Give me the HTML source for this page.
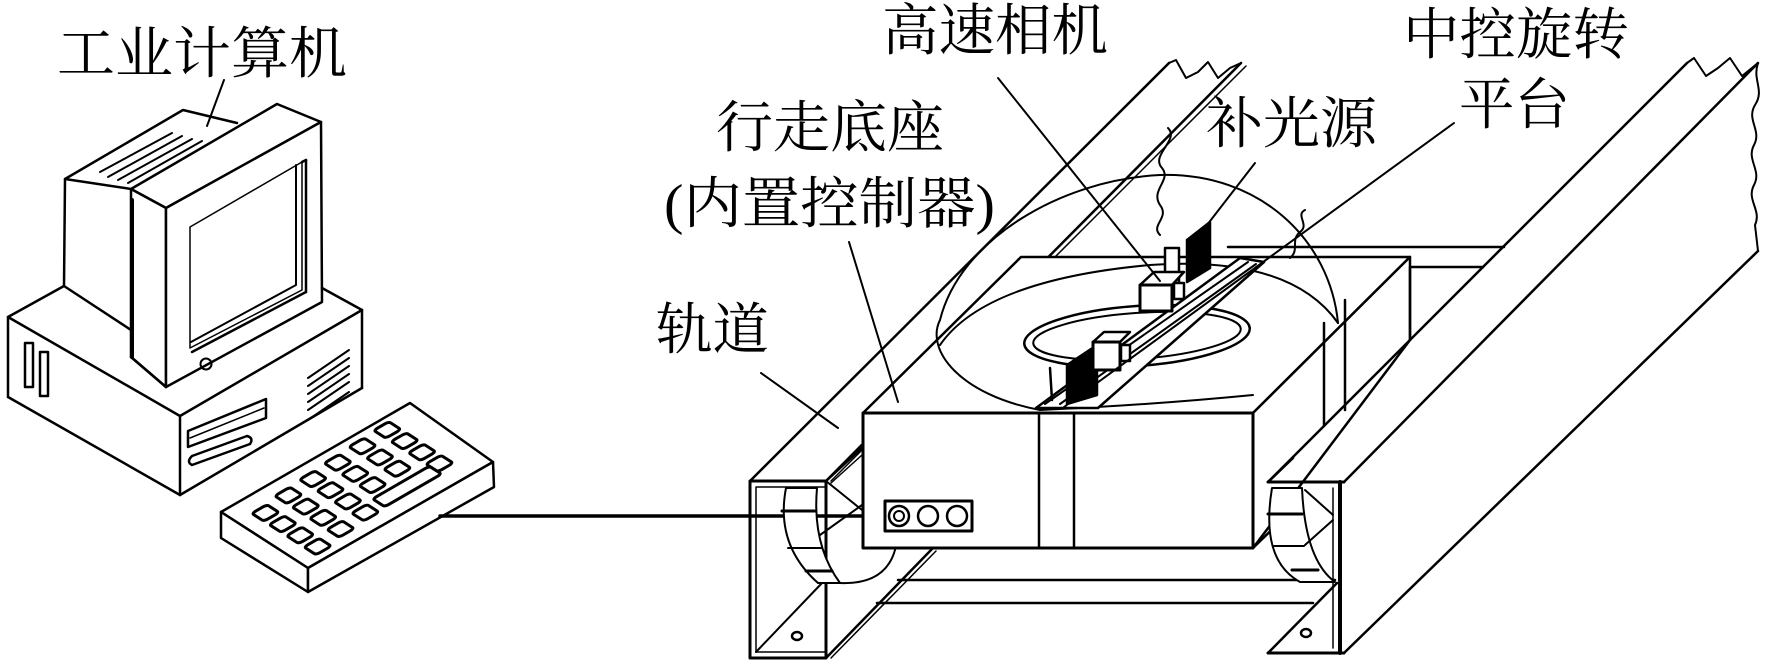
<!DOCTYPE html>
<html><head><meta charset="utf-8"><style>
html,body{margin:0;padding:0;background:#fff;}
svg{display:block;}
text{font-family:"Liberation Serif","Noto Serif CJK SC","Noto Sans CJK SC",serif;fill:#000;}
</style></head><body>
<svg width="1769" height="665" viewBox="0 0 1769 665" xmlns="http://www.w3.org/2000/svg">
<g fill="none" stroke="#000" stroke-width="2.5" stroke-linejoin="round" stroke-linecap="round">
<!-- ===== Computer ===== -->
<!-- monitor back box -->
<polyline points="131,189 65,179 183,110 237,123"/>
<line x1="65" y1="179" x2="64" y2="286"/>
<line x1="64" y1="286" x2="131" y2="330"/>
<!-- vents on back top -->
<g stroke-width="2">
<line x1="100" y1="172" x2="172" y2="133"/>
<line x1="108" y1="177" x2="182" y2="136"/>
<line x1="118" y1="180" x2="192" y2="139"/>
<line x1="128" y1="183" x2="202" y2="141"/>
</g>
<!-- monitor front box -->
<polygon points="131,189 277,104 321,122 166,208" fill="#fff"/>
<polygon points="131,189 166,208 166,387 131,357" fill="#fff"/>
<polygon points="166,208 321,122 322,302 166,387" fill="#fff"/>
<line x1="132" y1="200" x2="132" y2="357" stroke-width="4"/>
<!-- screen -->
<polygon points="190,227 302,162 302,290 190,348" stroke-width="1.5"/>
<polyline points="296,165 296,285 191,342" stroke-width="2"/>
<line x1="302" y1="162" x2="306" y2="160" />
<line x1="306" y1="160" x2="306" y2="292"/>
<line x1="306" y1="292" x2="192" y2="352"/>
<circle cx="206" cy="364" r="5.5" stroke-width="2"/>
<!-- base box -->
<polyline points="64,286 8,317 180,416 362,310 322,288"/>
<line x1="8" y1="317" x2="8" y2="397"/>
<line x1="8" y1="397" x2="180" y2="495"/>
<line x1="180" y1="416" x2="180" y2="495"/>
<line x1="362" y1="310" x2="362" y2="388"/>
<line x1="362" y1="388" x2="180" y2="495"/>
<line x1="166" y1="387" x2="131" y2="357"/>
<!-- left slots -->
<rect x="25" y="343" width="8" height="44"/>
<rect x="40" y="352" width="8" height="44"/>
<!-- right face slots -->
<polygon points="188,431 266,399 266,418 188,447"/>
<line x1="190" y1="438" x2="264" y2="408" stroke-width="1.5"/>
<path d="M192,456 L247,436 Q254,438 250,444 L192,465 Q186,462 192,456 Z"/>
<!-- vents right -->
<g stroke-width="2">
<line x1="308" y1="378" x2="349" y2="350"/>
<line x1="308" y1="386" x2="349" y2="358"/>
<line x1="308" y1="394" x2="349" y2="366"/>
<line x1="308" y1="402" x2="349" y2="374"/>
<line x1="308" y1="410" x2="349" y2="382"/>
<line x1="308" y1="420" x2="349" y2="392"/>
</g>
<!-- label leader -->
<line x1="224" y1="80" x2="207" y2="126" stroke-width="2"/>

<!-- ===== Keyboard ===== -->
<polygon points="221,512 410,403 493,462 308,568" fill="#fff"/>
<polygon points="221,512 308,568 308,592 221,538" fill="#fff"/>
<polygon points="308,568 493,462 494,487 308,592" fill="#fff"/>
<g transform="matrix(189,-109,87,56,221,512)" stroke-width="3">
<g vector-effect="non-scaling-stroke">
<rect x="0.08" y="0.18" width="0.08" height="0.14" rx="0.02" vector-effect="non-scaling-stroke"/>
<rect x="0.08" y="0.38" width="0.08" height="0.14" rx="0.02" vector-effect="non-scaling-stroke"/>
<rect x="0.08" y="0.58" width="0.08" height="0.14" rx="0.02" vector-effect="non-scaling-stroke"/>
<rect x="0.08" y="0.78" width="0.08" height="0.14" rx="0.02" vector-effect="non-scaling-stroke"/>
<rect x="0.22" y="0.14" width="0.08" height="0.14" rx="0.02" vector-effect="non-scaling-stroke"/>
<rect x="0.22" y="0.34" width="0.08" height="0.14" rx="0.02" vector-effect="non-scaling-stroke"/>
<rect x="0.22" y="0.54" width="0.08" height="0.14" rx="0.02" vector-effect="non-scaling-stroke"/>
<rect x="0.22" y="0.74" width="0.08" height="0.14" rx="0.02" vector-effect="non-scaling-stroke"/>
<rect x="0.36" y="0.12" width="0.08" height="0.14" rx="0.02" vector-effect="non-scaling-stroke"/>
<rect x="0.36" y="0.32" width="0.08" height="0.14" rx="0.02" vector-effect="non-scaling-stroke"/>
<rect x="0.36" y="0.52" width="0.08" height="0.14" rx="0.02" vector-effect="non-scaling-stroke"/>
<rect x="0.36" y="0.72" width="0.08" height="0.14" rx="0.02" vector-effect="non-scaling-stroke"/>
<rect x="0.50" y="0.10" width="0.08" height="0.14" rx="0.02" vector-effect="non-scaling-stroke"/>
<rect x="0.50" y="0.30" width="0.08" height="0.14" rx="0.02" vector-effect="non-scaling-stroke"/>
<rect x="0.50" y="0.50" width="0.08" height="0.14" rx="0.02" vector-effect="non-scaling-stroke"/>
<rect x="0.48" y="0.70" width="0.30" height="0.14" rx="0.02" vector-effect="non-scaling-stroke"/>
<rect x="0.64" y="0.08" width="0.08" height="0.14" rx="0.02" vector-effect="non-scaling-stroke"/>
<rect x="0.64" y="0.28" width="0.08" height="0.14" rx="0.02" vector-effect="non-scaling-stroke"/>
<rect x="0.64" y="0.48" width="0.08" height="0.14" rx="0.02" vector-effect="non-scaling-stroke"/>
<rect x="0.78" y="0.06" width="0.08" height="0.14" rx="0.02" vector-effect="non-scaling-stroke"/>
<rect x="0.78" y="0.26" width="0.08" height="0.14" rx="0.02" vector-effect="non-scaling-stroke"/>
<rect x="0.78" y="0.46" width="0.08" height="0.14" rx="0.02" vector-effect="non-scaling-stroke"/>
<rect x="0.78" y="0.66" width="0.08" height="0.14" rx="0.02" vector-effect="non-scaling-stroke"/>
</g></g>
<!-- cable -->
<line x1="440" y1="516" x2="886" y2="516" stroke-width="3.5"/>

<!-- ===== Rails (background parts) ===== -->
<!-- crossbars back -->
<line x1="1228" y1="247" x2="1504" y2="247"/>
<line x1="1410" y1="267" x2="1483" y2="267"/>
<!-- left rail -->
<line x1="750" y1="481" x2="1169" y2="63"/>
<line x1="826" y1="481" x2="1241" y2="63"/>
<line x1="831" y1="481" x2="1246" y2="66" stroke-width="1.5"/>
<path d="M1169,63 L1176,60 L1186,78 L1198,72 L1208,62 L1218,78 L1230,68 L1241,63" stroke-width="2"/>
<path d="M1168,128 C1180,140 1150,155 1162,168 C1172,180 1150,190 1160,205 C1170,218 1150,225 1160,235" stroke-width="2"/>
<!-- crossbars front -->
<line x1="898" y1="580" x2="1335" y2="580"/>
<line x1="877" y1="603" x2="1313" y2="603"/>
<!-- left rail bottom flange -->
<line x1="826" y1="658" x2="932" y2="549"/>
<line x1="831" y1="658" x2="936" y2="551" stroke-width="1.5"/>
<!-- ===== Main box ===== -->
<polygon points="863,413 1021,257 1410,257 1253,413" fill="#fff"/>
<polygon points="1253,413 1410,257 1410,340 1253,548" fill="#fff"/>
<rect x="863" y="413" width="390" height="135" fill="#fff" stroke-width="3"/>
<line x1="1039" y1="413" x2="1039" y2="548"/>
<line x1="1074" y1="413" x2="1074" y2="548"/>
<line x1="1253" y1="548" x2="1290" y2="512"/>
<line x1="1324" y1="323" x2="1324" y2="425"/>
<line x1="1345" y1="300" x2="1345" y2="410"/>
<line x1="1410" y1="267" x2="1410" y2="340"/>
<!-- dome & disc -->
<path d="M1040,410 C960,395 925,350 940,320 C960,240 1060,180 1160,175 C1260,172 1330,240 1338,323" stroke-width="2"/>
<path d="M940,345 Q985,280 1150,265 Q1290,255 1338,323" stroke-width="2"/>
<path d="M1040,410 Q1150,405 1253,395" stroke-width="2"/>
<path d="M1290,258 C1300,250 1290,240 1300,232 C1310,225 1295,215 1305,210" stroke-width="2"/>
<!-- ring -->
<ellipse cx="1137" cy="336" rx="113" ry="30" transform="rotate(-4 1137 336)"/>
<ellipse cx="1137" cy="336" rx="104" ry="23" transform="rotate(-4 1137 336)" stroke-width="2"/>
<!-- camera bar -->
<polygon points="1036,408 1098,408 1264,262 1240,258" fill="#fff"/>
<line x1="1045" y1="404" x2="1248" y2="262" stroke-width="2"/>
<line x1="1060" y1="404" x2="1256" y2="264" stroke-width="2"/>
<!-- upper light plate -->
<polygon points="1187,240 1210,222 1210,268 1187,282" fill="#000"/>
<rect x="1165" y="248" width="14" height="42" fill="#fff"/>
<!-- upper camera -->
<polygon points="1140,285 1172,285 1184,272 1154,272" fill="#fff"/>
<rect x="1140" y="285" width="32" height="26" fill="#fff" stroke-width="3"/>
<rect x="1174" y="283" width="10" height="16" fill="#fff"/>
<!-- lower light plate -->
<polygon points="1067,365 1097,345 1097,395 1067,404" fill="#000"/>
<line x1="1050" y1="368" x2="1052" y2="400"/>
<!-- lower camera -->
<polygon points="1093,342 1120,342 1130,332 1104,332" fill="#fff"/>
<rect x="1093" y="342" width="27" height="28" fill="#fff" stroke-width="3"/>
<rect x="1121" y="345" width="9" height="16" fill="#fff"/>
<!-- connector -->
<rect x="885" y="501" width="87" height="30" fill="#fff" stroke-width="3"/>
<circle cx="899" cy="516" r="10"/>
<circle cx="928" cy="516" r="10"/>
<circle cx="957" cy="516" r="10"/>
<circle cx="899" cy="516" r="5" stroke-width="2"/>
<!-- left rail front plate -->
<rect x="750" y="481" width="76" height="177" fill="none" stroke-width="3"/>
<polyline points="826,487 756,487 756,652 826,652" stroke-width="1.5"/>
<line x1="826" y1="481" x2="862" y2="448"/>
<line x1="831" y1="483" x2="862" y2="455" stroke-width="1.5"/>
<line x1="826" y1="481" x2="862" y2="510" stroke-width="2"/>
<line x1="820" y1="535" x2="862" y2="505" stroke-width="2"/>
<line x1="756" y1="652" x2="822" y2="583" stroke-width="2"/>
<!-- left wheel -->
<path d="M786,488 Q775,545 818,583 L840,583 Q812,545 817,488 Z" fill="#fff" stroke-width="2"/>
<line x1="782" y1="511" x2="815" y2="511" stroke-width="3"/>
<line x1="788" y1="548" x2="822" y2="548" stroke-width="2"/>
<line x1="806" y1="571" x2="832" y2="571" stroke-width="3"/>
<path d="M840,583 Q885,585 895,550" stroke-width="2"/>
<ellipse cx="797" cy="636" rx="5" ry="4" stroke-width="2.5"/>
<!-- right rail -->
<line x1="1268" y1="482" x2="1687" y2="63"/>
<line x1="1344" y1="482" x2="1758" y2="63"/>
<path d="M1687,63 L1694,58 L1706,76 L1718,68 L1730,58 L1742,76 L1758,63" stroke-width="2"/>
<path d="M1758,63 C1752,80 1765,90 1755,105 C1746,120 1762,130 1754,145 C1746,160 1762,170 1754,185 C1746,200 1762,210 1755,225 L1758,251" stroke-width="2"/>
<line x1="1758" y1="251" x2="1344" y2="653"/>
<line x1="1268" y1="482" x2="1344" y2="482" stroke-width="3"/>
<line x1="1340" y1="482" x2="1340" y2="653" stroke-width="4"/>
<line x1="1333" y1="488" x2="1333" y2="648" stroke-width="1.5"/>
<line x1="1268" y1="653" x2="1344" y2="653" stroke-width="3"/>
<line x1="1268" y1="653" x2="1337" y2="583"/>
<line x1="1268" y1="482" x2="1293" y2="458"/>
<!-- right wheel -->
<path d="M1272,488 Q1260,560 1300,582 L1335,582 Q1305,560 1302,488 Z" fill="#fff" stroke-width="2"/>
<line x1="1268" y1="514" x2="1302" y2="514" stroke-width="3"/>
<line x1="1274" y1="546" x2="1304" y2="546" stroke-width="2"/>
<line x1="1292" y1="570" x2="1318" y2="570" stroke-width="3"/>
<line x1="1305" y1="490" x2="1333" y2="515" stroke-width="2"/>
<line x1="1305" y1="545" x2="1333" y2="520" stroke-width="2"/>
<ellipse cx="1306" cy="633" rx="5" ry="4" stroke-width="2.5"/>
<!-- leaders -->
<g stroke-width="2">
<line x1="849" y1="242" x2="898" y2="402"/>
<line x1="761" y1="373" x2="838" y2="428"/>
<line x1="998" y1="78" x2="1160" y2="281"/>
<line x1="1255" y1="163" x2="1207" y2="225"/>
<line x1="1454" y1="123" x2="1064" y2="407"/>
</g>
</g>
<!-- ===== Labels ===== -->
<g font-size="56">
<text x="57" y="73" textLength="290" lengthAdjust="spacingAndGlyphs">工业计算机</text>
<text x="882" y="50" textLength="226" lengthAdjust="spacingAndGlyphs">高速相机</text>
<text x="716" y="147" textLength="228" lengthAdjust="spacingAndGlyphs">行走底座</text>
<text x="664" y="223" textLength="331" lengthAdjust="spacingAndGlyphs">(内置控制器)</text>
<text x="656" y="349" textLength="113" lengthAdjust="spacingAndGlyphs">轨道</text>
<text x="1403" y="54" textLength="226" lengthAdjust="spacingAndGlyphs">中控旋转</text>
<text x="1459" y="124" textLength="111" lengthAdjust="spacingAndGlyphs">平台</text>
<text x="1206" y="143" textLength="171" lengthAdjust="spacingAndGlyphs">补光源</text>
</g>
</svg>
</body></html>
